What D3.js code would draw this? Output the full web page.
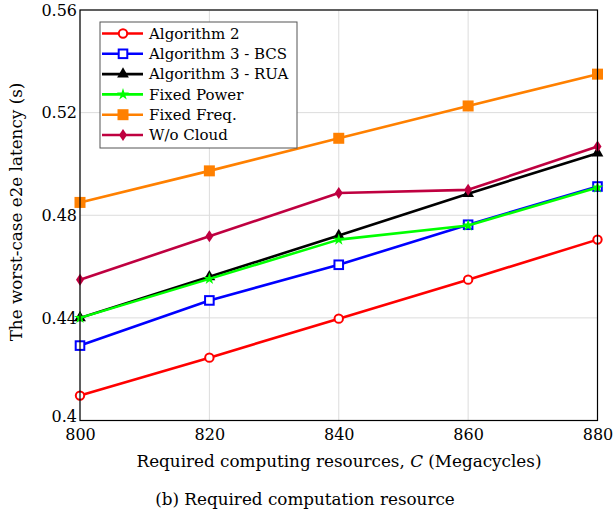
<!DOCTYPE html>
<html><head><meta charset="utf-8">
<script src="https://cdn.jsdelivr.net/npm/d3@7"></script>
<style>body{margin:0;background:#fff}svg{display:block}</style>
</head><body>
<svg id="c" width="613" height="518"></svg>
<script>
const xValues = [800, 820, 840, 860, 880];
const seriesNames = ["Algorithm 2", "Algorithm 3 - BCS", "Algorithm 3 - RUA", "Fixed Power", "Fixed Freq.", "W/o Cloud"];
const alg2 = [0.4097, 0.4245, 0.4397, 0.4549, 0.4705];
const algBCS = [0.4292, 0.4468, 0.4607, 0.4763, 0.4912];
const algRUA = [0.4400, 0.4560, 0.4721, 0.4884, 0.5042];
const fixedPower = [0.4400, 0.4552, 0.4705, 0.4760, 0.4908];
const fixedFreq = [0.4850, 0.4973, 0.5100, 0.5226, 0.5350];
const woCloud = [0.4549, 0.4718, 0.4887, 0.4899, 0.5068];
const yTicks = [0.4, 0.44, 0.48, 0.52, 0.56];
const yTickLabels = ["0.4", "0.44", "0.48", "0.52", "0.56"];
const xTicks = [800, 820, 840, 860, 880];

const seriesData = [alg2, algBCS, algRUA, fixedPower, fixedFreq, woCloud];
const colors = ["#ff0000", "#0000ff", "#000000", "#00ff00", "#ff8000", "#bf0040"];
const markers = ["circle", "square", "triangle", "star", "squareF", "diamond"];
const FONT = "DejaVu Serif";

const svg = d3.select("#c");
const L = 80, R = 597.5, T = 10, B = 420.5;
const x = d3.scaleLinear().domain([800, 880]).range([L, R]);
const y = d3.scaleLinear().domain([0.4, 0.56]).range([B, T]);

// grid
svg.append("g").selectAll("line").data(xTicks).join("line")
  .attr("x1", d => x(d)).attr("x2", d => x(d)).attr("y1", T).attr("y2", B)
  .attr("stroke", "#dcdcdc").attr("stroke-width", 1);
svg.append("g").selectAll("line").data(yTicks).join("line")
  .attr("x1", L).attr("x2", R).attr("y1", d => y(d)).attr("y2", d => y(d))
  .attr("stroke", "#dcdcdc").attr("stroke-width", 1);

// axes
const xAxis = d3.axisBottom(x).tickValues(xTicks).tickSize(0).tickPadding(8).tickFormat(d3.format("d"));
const gx = svg.append("g").attr("transform", `translate(0,${B})`).call(xAxis);
gx.attr("font-family", FONT).attr("font-size", 16);
gx.select(".domain").remove();
gx.selectAll("text").attr("fill", "#000");
const yAxis = d3.axisLeft(y).tickValues(yTicks).tickSize(0).tickPadding(3).tickFormat((d, i) => yTickLabels[i]);
const gy = svg.append("g").attr("transform", `translate(${L},0)`).call(yAxis);
gy.attr("font-family", FONT).attr("font-size", 16);
gy.select(".domain").remove();
gy.selectAll("text").attr("fill", "#000").attr("dy", (d, i) => i === 0 ? "0.05em" : "0.32em");

function drawMarker(g, type, color) {
  const sw = 2;
  if (type === "circle") g.append("circle").attr("r", 4.2).attr("fill", "#fff").attr("stroke", color).attr("stroke-width", sw);
  else if (type === "square") g.append("rect").attr("x", -4.3).attr("y", -4.3).attr("width", 8.6).attr("height", 8.6).attr("fill", "#fff").attr("stroke", color).attr("stroke-width", sw);
  else if (type === "squareF") g.append("rect").attr("x", -5.5).attr("y", -5.5).attr("width", 11).attr("height", 11).attr("fill", color);
  else if (type === "triangle") g.append("path").attr("d", d3.symbol(d3.symbolTriangle, 60)()).attr("fill", color);
  else if (type === "star") g.append("path").attr("d", d3.symbol(d3.symbolStar, 45)()).attr("fill", color);
  else if (type === "diamond") g.append("path").attr("d", "M0,-6L4,0L0,6L-4,0Z").attr("fill", color);
}

const line = d3.line().x((d, i) => x(xValues[i])).y(d => y(d));
seriesData.forEach((s, k) => {
  const g = svg.append("g");
  g.append("path").datum(s).attr("d", line).attr("fill", "none").attr("stroke", colors[k]).attr("stroke-width", 2.6).attr("stroke-linejoin", "round");
  s.forEach((v, i) => {
    const m = g.append("g").attr("transform", `translate(${x(xValues[i])},${y(v)})`);
    drawMarker(m, markers[k], colors[k]);
  });
});

// frame
svg.append("rect").attr("x", L).attr("y", T).attr("width", R - L).attr("height", B - T)
  .attr("fill", "none").attr("stroke", "#000").attr("stroke-width", 1.2);

// legend
const lg = svg.append("g");
lg.append("rect").attr("x", 100).attr("y", 22).attr("width", 197).attr("height", 126)
  .attr("fill", "#fff").attr("stroke", "#555").attr("stroke-width", 1);
seriesNames.forEach((n, k) => {
  const yy = 33.5 + k * 20.3;
  lg.append("line").attr("x1", 102).attr("x2", 143).attr("y1", yy).attr("y2", yy).attr("stroke", colors[k]).attr("stroke-width", 2.6);
  const m = lg.append("g").attr("transform", `translate(123,${yy})`);
  drawMarker(m, markers[k], colors[k]);
  lg.append("text").attr("x", 149).attr("y", yy + 5.2).attr("font-family", FONT).attr("font-size", 15).text(n);
});

// labels
svg.append("text").attr("x", 339).attr("y", 467).attr("text-anchor", "middle").attr("font-family", FONT).attr("font-size", 16.8)
  .html('Required computing resources, <tspan font-style="italic">C</tspan> (Megacycles)');
svg.append("text").attr("transform", `translate(22,212) rotate(-90)`).attr("text-anchor", "middle").attr("font-family", FONT).attr("font-size", 16.8)
  .text("The worst-case e2e latency (s)");
svg.append("text").attr("x", 305).attr("y", 505).attr("text-anchor", "middle").attr("font-family", FONT).attr("font-size", 16.8)
  .text("(b) Required computation resource");
</script>
</body></html>
